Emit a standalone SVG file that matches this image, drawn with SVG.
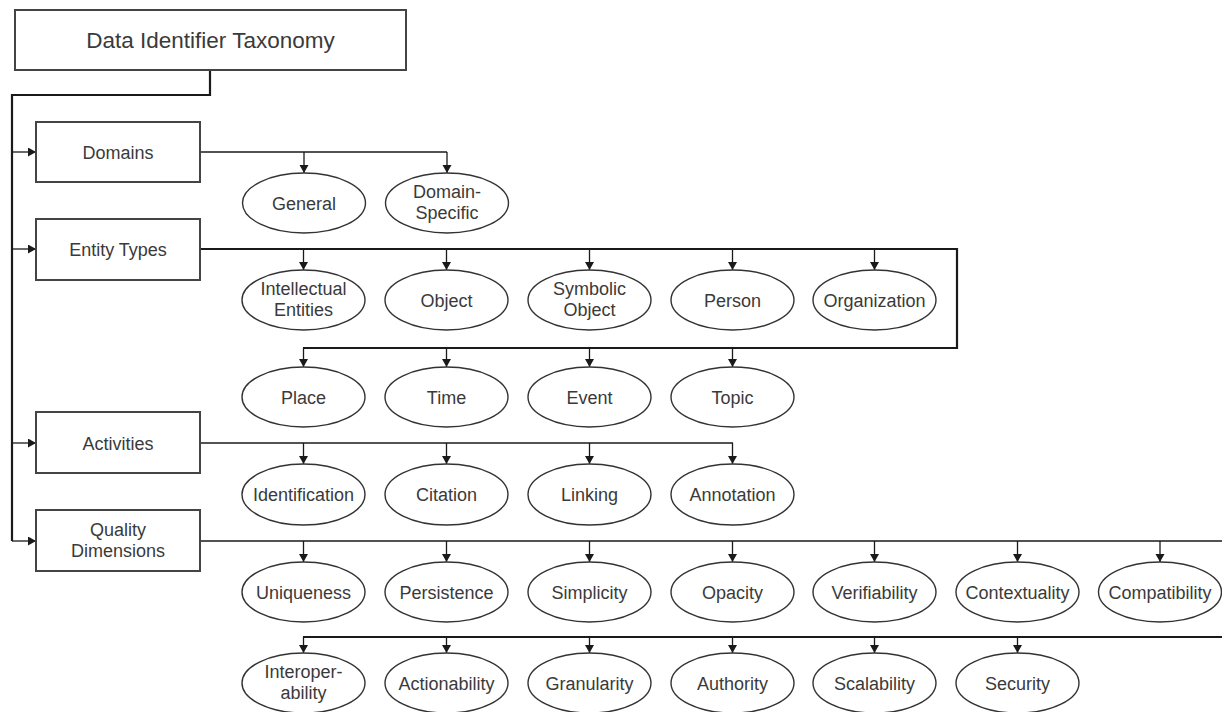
<svg xmlns="http://www.w3.org/2000/svg" width="1222" height="712" viewBox="0 0 1222 712">
<defs>
<marker id="ah" markerUnits="userSpaceOnUse" markerWidth="10" markerHeight="10" refX="8" refY="4.5" orient="auto">
<path d="M0,0 L8,4.5 L0,9 z" fill="#1a1a1a"/>
</marker>
<style>
.box{fill:#fff;stroke:#444;stroke-width:2}
.ell{fill:#fff;stroke:#333;stroke-width:1.4}
.t{font-family:"Liberation Sans",Arial,sans-serif;font-size:18px;fill:#3a3a3a;text-anchor:middle}
.title{font-size:22.5px}
.ln{fill:none;stroke:#1a1a1a;stroke-width:1.4}
.thk{stroke-width:2.2}
.arr{fill:none;stroke:#1a1a1a;stroke-width:1.3;marker-end:url(#ah)}
</style>
</defs>
<rect width="1222" height="712" fill="#fff"/>
<g id="connectors">
<path class="ln thk" d="M210,71 V95 H12 V541"/>
<path class="arr" d="M12,152 H36"/>
<path class="arr" d="M12,249 H36"/>
<path class="arr" d="M12,443 H36"/>
<path class="arr" d="M12,541 H36"/>
<path class="ln" d="M200,152 H447"/>
<path class="arr" d="M304,152 V173"/>
<path class="arr" d="M447,152 V173"/>
<path class="ln thk" d="M200,249 H957 V348 H303"/>
<path class="arr" d="M303.5,249 V270"/>
<path class="arr" d="M446.5,249 V270"/>
<path class="arr" d="M589.5,249 V270"/>
<path class="arr" d="M732.5,249 V270"/>
<path class="arr" d="M874.5,249 V270"/>
<path class="arr" d="M303.5,348 V367"/>
<path class="arr" d="M446.5,348 V367"/>
<path class="arr" d="M589.5,348 V367"/>
<path class="arr" d="M732.5,348 V367"/>
<path class="ln" d="M200,443 H733"/>
<path class="arr" d="M303.5,443 V464"/>
<path class="arr" d="M446.5,443 V464"/>
<path class="arr" d="M589.5,443 V464"/>
<path class="arr" d="M732.5,443 V464"/>
<path class="ln" d="M200,541 H1232 V637 H303"/>
<path class="ln thk" d="M303,637 H1232"/>
<path class="arr" d="M303.5,541 V562"/>
<path class="arr" d="M446.5,541 V562"/>
<path class="arr" d="M589.5,541 V562"/>
<path class="arr" d="M732.5,541 V562"/>
<path class="arr" d="M874.5,541 V562"/>
<path class="arr" d="M1017.5,541 V562"/>
<path class="arr" d="M1160,541 V562"/>
<path class="arr" d="M303.5,637 V653"/>
<path class="arr" d="M446.5,637 V653"/>
<path class="arr" d="M589.5,637 V653"/>
<path class="arr" d="M732.5,637 V653"/>
<path class="arr" d="M874.5,637 V653"/>
<path class="arr" d="M1017.5,637 V653"/>
</g>
<g id="root"><rect class="box" x="15" y="10" width="391" height="60"/><text class="t title" x="210.5" y="48">Data Identifier Taxonomy</text></g>
<g id="domains"><rect class="box" x="36" y="122" width="164" height="60"/><text class="t" x="118" y="158.5">Domains</text></g>
<g id="entitytypes"><rect class="box" x="36" y="219" width="164" height="61"/><text class="t" x="118" y="255.5">Entity Types</text></g>
<g id="activities"><rect class="box" x="36" y="412" width="164" height="61"/><text class="t" x="118" y="449.5">Activities</text></g>
<g id="quality"><rect class="box" x="36" y="510" width="164" height="61"/><text class="t" x="118" y="536">Quality</text><text class="t" x="118" y="557">Dimensions</text></g>

<g id="general"><ellipse class="ell" cx="304" cy="203" rx="61.5" ry="30"/><text class="t" x="304" y="209.5">General</text></g>
<g id="domainspecific"><ellipse class="ell" cx="447" cy="203" rx="61.5" ry="30"/><text class="t" x="447" y="198">Domain-</text><text class="t" x="447" y="219">Specific</text></g>

<g id="intellectual"><ellipse class="ell" cx="303.5" cy="300" rx="61.5" ry="30"/><text class="t" x="303.5" y="295">Intellectual</text><text class="t" x="303.5" y="316">Entities</text></g>
<g id="object"><ellipse class="ell" cx="446.5" cy="300" rx="61.5" ry="30"/><text class="t" x="446.5" y="306.5">Object</text></g>
<g id="symbolic"><ellipse class="ell" cx="589.5" cy="300" rx="61.5" ry="30"/><text class="t" x="589.5" y="295">Symbolic</text><text class="t" x="589.5" y="316">Object</text></g>
<g id="person"><ellipse class="ell" cx="732.5" cy="300" rx="61.5" ry="30"/><text class="t" x="732.5" y="306.5">Person</text></g>
<g id="organization"><ellipse class="ell" cx="874.5" cy="300" rx="61.5" ry="30"/><text class="t" x="874.5" y="306.5">Organization</text></g>

<g id="place"><ellipse class="ell" cx="303.5" cy="397" rx="61.5" ry="30"/><text class="t" x="303.5" y="403.5">Place</text></g>
<g id="time"><ellipse class="ell" cx="446.5" cy="397" rx="61.5" ry="30"/><text class="t" x="446.5" y="403.5">Time</text></g>
<g id="event"><ellipse class="ell" cx="589.5" cy="397" rx="61.5" ry="30"/><text class="t" x="589.5" y="403.5">Event</text></g>
<g id="topic"><ellipse class="ell" cx="732.5" cy="397" rx="61.5" ry="30"/><text class="t" x="732.5" y="403.5">Topic</text></g>

<g id="identification"><ellipse class="ell" cx="303.5" cy="494.5" rx="61.5" ry="30.5"/><text class="t" x="303.5" y="501">Identification</text></g>
<g id="citation"><ellipse class="ell" cx="446.5" cy="494.5" rx="61.5" ry="30.5"/><text class="t" x="446.5" y="501">Citation</text></g>
<g id="linking"><ellipse class="ell" cx="589.5" cy="494.5" rx="61.5" ry="30.5"/><text class="t" x="589.5" y="501">Linking</text></g>
<g id="annotation"><ellipse class="ell" cx="732.5" cy="494.5" rx="61.5" ry="30.5"/><text class="t" x="732.5" y="501">Annotation</text></g>

<g id="uniqueness"><ellipse class="ell" cx="303.5" cy="592" rx="61.5" ry="30"/><text class="t" x="303.5" y="598.5">Uniqueness</text></g>
<g id="persistence"><ellipse class="ell" cx="446.5" cy="592" rx="61.5" ry="30"/><text class="t" x="446.5" y="598.5">Persistence</text></g>
<g id="simplicity"><ellipse class="ell" cx="589.5" cy="592" rx="61.5" ry="30"/><text class="t" x="589.5" y="598.5">Simplicity</text></g>
<g id="opacity"><ellipse class="ell" cx="732.5" cy="592" rx="61.5" ry="30"/><text class="t" x="732.5" y="598.5">Opacity</text></g>
<g id="verifiability"><ellipse class="ell" cx="874.5" cy="592" rx="61.5" ry="30"/><text class="t" x="874.5" y="598.5">Verifiability</text></g>
<g id="contextuality"><ellipse class="ell" cx="1017.5" cy="592" rx="61.5" ry="30"/><text class="t" x="1017.5" y="598.5">Contextuality</text></g>
<g id="compatibility"><ellipse class="ell" cx="1160" cy="592" rx="61.5" ry="30"/><text class="t" x="1160" y="598.5">Compatibility</text></g>

<g id="interoperability"><ellipse class="ell" cx="303.5" cy="683" rx="61.5" ry="30"/><text class="t" x="303.5" y="678">Interoper-</text><text class="t" x="303.5" y="699">ability</text></g>
<g id="actionability"><ellipse class="ell" cx="446.5" cy="683" rx="61.5" ry="30"/><text class="t" x="446.5" y="689.5">Actionability</text></g>
<g id="granularity"><ellipse class="ell" cx="589.5" cy="683" rx="61.5" ry="30"/><text class="t" x="589.5" y="689.5">Granularity</text></g>
<g id="authority"><ellipse class="ell" cx="732.5" cy="683" rx="61.5" ry="30"/><text class="t" x="732.5" y="689.5">Authority</text></g>
<g id="scalability"><ellipse class="ell" cx="874.5" cy="683" rx="61.5" ry="30"/><text class="t" x="874.5" y="689.5">Scalability</text></g>
<g id="security"><ellipse class="ell" cx="1017.5" cy="683" rx="61.5" ry="30"/><text class="t" x="1017.5" y="689.5">Security</text></g>
</svg>
